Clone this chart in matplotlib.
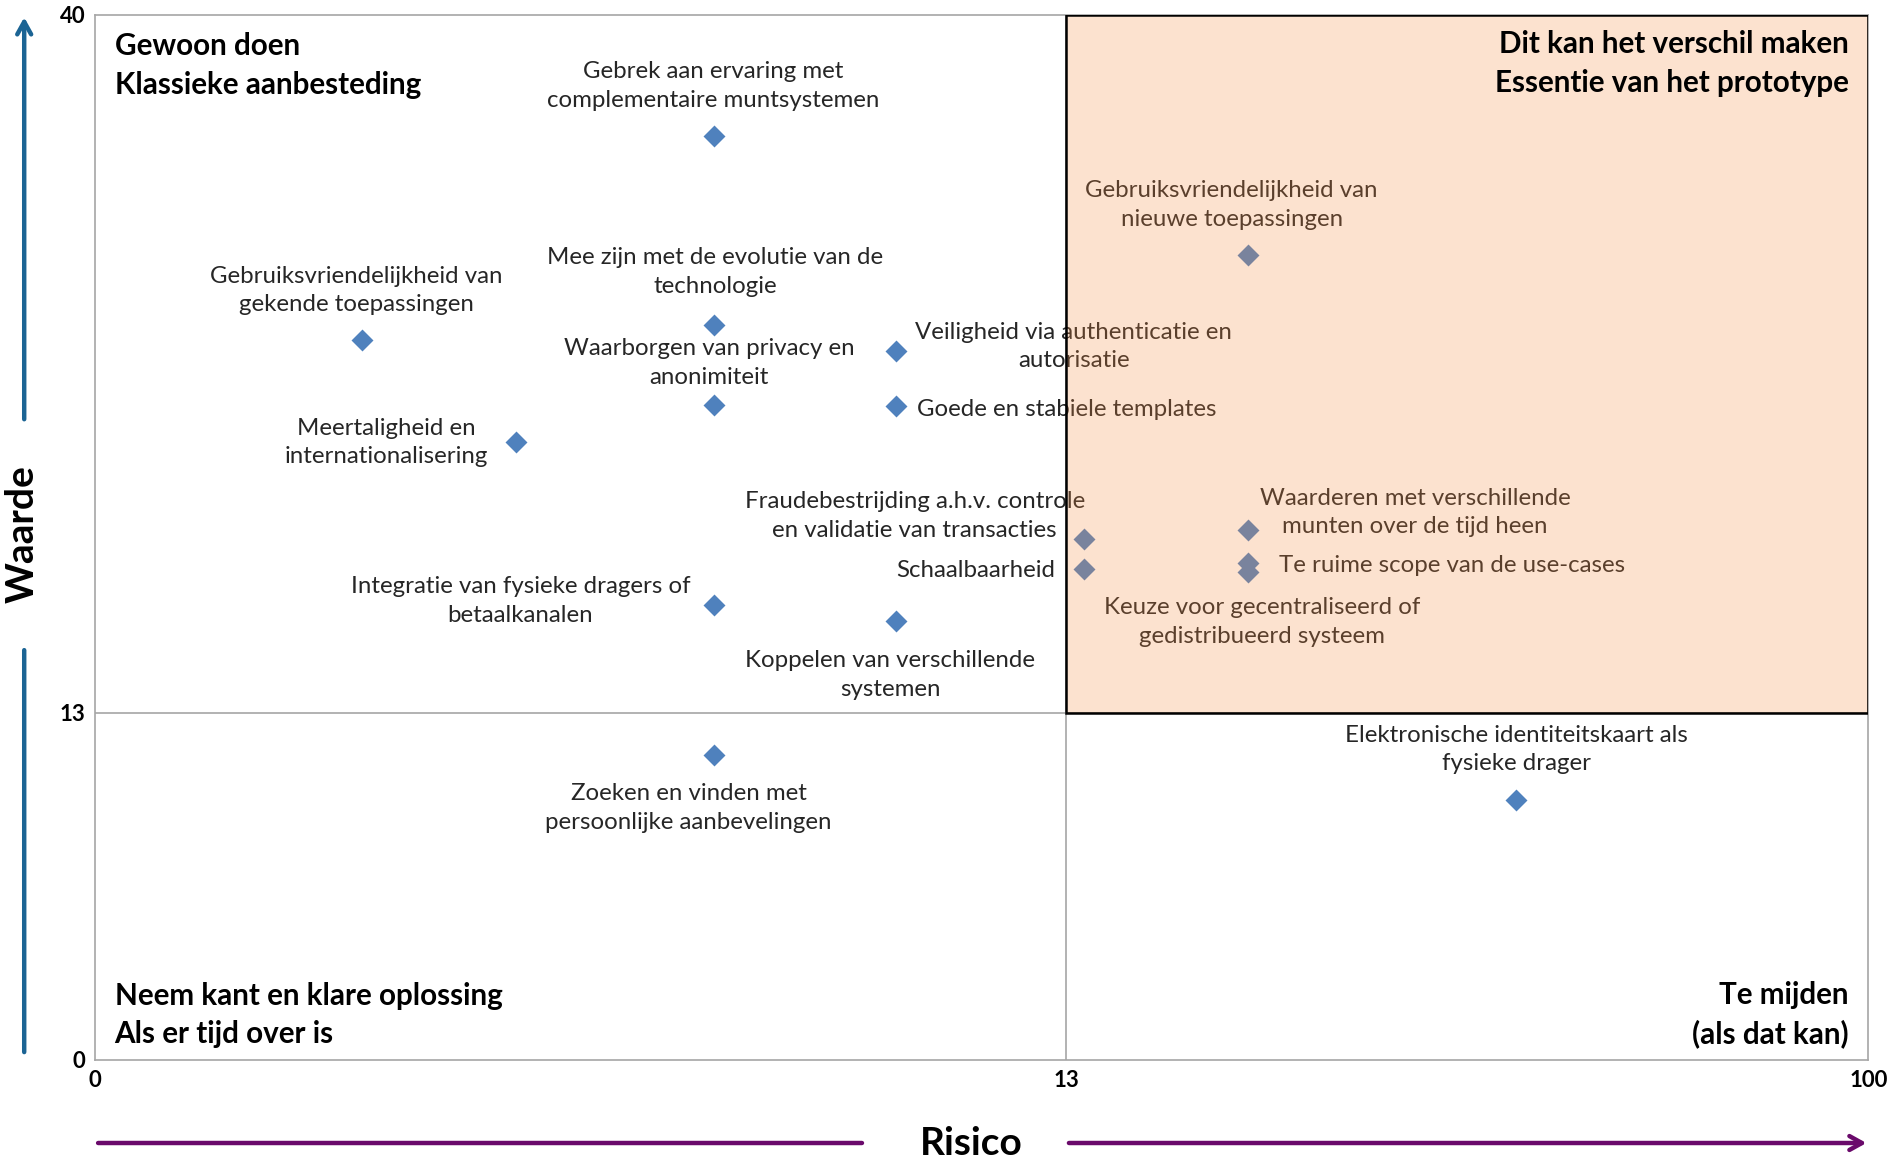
import numpy as np
import matplotlib.pyplot as plt
from matplotlib.patches import Rectangle

plt.rcParams['font.family'] = ['Lato', 'DejaVu Sans']

labels = [
    'Gebrek aan ervaring met\ncomplementaire muntsystemen',
    'Gebruiksvriendelijkheid van\nnieuwe toepassingen',
    'Mee zijn met de evolutie van de\ntechnologie',
    'Gebruiksvriendelijkheid van\ngekende toepassingen',
    'Veiligheid via authenticatie en\nautorisatie',
    'Waarborgen van privacy en\nanonimiteit',
    'Goede en stabiele templates',
    'Meertaligheid en\ninternationalisering',
    'Fraudebestrijding a.h.v. controle\nen validatie van transacties',
    'Waarderen met verschillende\nmunten over de tijd heen',
    'Schaalbaarheid',
    'Te ruime scope van de use-cases',
    'Keuze voor gecentraliseerd of\ngedistribueerd systeem',
    'Integratie van fysieke dragers of\nbetaalkanalen',
    'Koppelen van verschillende\nsystemen',
    'Zoeken en vinden met\npersoonlijke aanbevelingen',
    'Elektronische identiteitskaart als\nfysieke drager',
]
risico = [8.28, 32.75, 8.28, 3.57, 10.72, 8.28, 10.72, 5.64, 14.96, 32.75,
          14.96, 32.75, 32.75, 8.28, 10.72, 8.28, 61.8]
waarde = [35.3, 30.7, 28.0, 27.4, 27.0, 24.9, 24.85, 23.45, 19.7, 20.05,
          18.55, 18.8, 18.45, 17.15, 16.55, 11.4, 9.75]
# label offsets (points) relative to the marker
offsets = [(0, 36), (-12, 36), (1, 38), (-4, 36), (128, 3), (-3, 30), (123, -2),
           (-94, 0), (-122, 17), (120, 13), (-78, -1), (147, -2), (10, -36),
           (-139, 3), (-4, -39), (-18, -38), (0, 36)]

ticks_x = [0, 13, 100]
ticks_y = [0, 13, 40]

# piecewise linear axes (13 is the split point)
fx = 805 / 1470
fy = 288 / 867


def make_fwd(f, top):
    def fwd(v):
        v = np.asarray(v, dtype=float)
        return np.where(v <= 13, v / 13 * f, f + (v - 13) / (top - 13) * (1 - f))
    return fwd


def make_inv(f, top):
    def inv(u):
        u = np.asarray(u, dtype=float)
        return np.where(u <= f, u / f * 13, 13 + (u - f) / (1 - f) * (top - 13))
    return inv


fig = plt.figure(figsize=(18.91, 11.61), dpi=100)
ax = fig.add_axes([0.0503, 0.087, 0.9377, 0.9005])
ax.set_xscale('function', functions=(make_fwd(fx, 100), make_inv(fx, 100)))
ax.set_yscale('function', functions=(make_fwd(fy, 40), make_inv(fy, 40)))
ax.set_xlim(0, 100)
ax.set_ylim(0, 40)

ax.set_xticks(ticks_x)
ax.set_yticks(ticks_y)
ax.set_xticklabels([str(t) for t in ticks_x], fontsize=16, fontweight='bold')
ax.set_yticklabels([str(t) for t in ticks_y], fontsize=16, fontweight='bold')
ax.tick_params(length=0, pad=7)
ax.minorticks_off()
for s in ax.spines.values():
    s.set_color('#A6A6A6')
    s.set_linewidth(1.2)
ax.axvline(13, color='#A6A6A6', lw=1.2, zorder=1)
ax.axhline(13, color='#A6A6A6', lw=1.2, zorder=1)

ax.scatter(risico, waarde, marker='D', s=125, color='#4F81BD', linewidths=0, zorder=3)
for lab, x, y, off in zip(labels, risico, waarde, offsets):
    ax.annotate(lab, (x, y), xytext=off, textcoords='offset points',
                ha='center', va='center', fontsize=17.3, color='#262626',
                linespacing=1.45, zorder=3)

ax.add_patch(Rectangle((13, 13), 87, 27, facecolor='#F78C40', alpha=0.25,
                       edgecolor='none', zorder=5))
ax.add_patch(Rectangle((13, 13), 87, 27, facecolor='none', edgecolor='black',
                       lw=1.8, zorder=6))

qkw = dict(transform=ax.transAxes, fontsize=21.3, fontweight='bold', color='black',
           linespacing=1.45, zorder=7)
ax.text(0.011, 0.983, 'Gewoon doen\nKlassieke aanbesteding', ha='left', va='top', **qkw)
ax.text(0.989, 0.985, 'Dit kan het verschil maken\nEssentie van het prototype', ha='right', va='top', **qkw)
ax.text(0.011, 0.011, 'Neem kant en klare oplossing\nAls er tijd over is', ha='left', va='bottom', **qkw)
ax.text(0.989, 0.011, 'Te mijden\n(als dat kan)', ha='right', va='bottom', **qkw)

# axis titles with arrows
fig.text(0.5135, 0.0155, 'Risico', ha='center', va='center', fontsize=28, fontweight='bold')
fig.text(0.0115, 0.540, 'Waarde', ha='center', va='center', rotation=90, fontsize=28, fontweight='bold')

purple = '#6A0A6B'
blue = '#1B6494'
ax.annotate('', xy=(0.4573, 0.0155), xytext=(0.0504, 0.0155), xycoords='figure fraction',
            arrowprops=dict(arrowstyle='-', lw=3.2, color=purple), annotation_clip=False)
ax.annotate('', xy=(0.9885, 0.0155), xytext=(0.5638, 0.0155), xycoords='figure fraction',
            arrowprops=dict(arrowstyle='->,head_length=0.9,head_width=0.5', lw=3.2, color=purple),
            annotation_clip=False)
ax.annotate('', xy=(0.0128, 0.0914), xytext=(0.0128, 0.4424), xycoords='figure fraction',
            arrowprops=dict(arrowstyle='-', lw=3.2, color=blue), annotation_clip=False)
ax.annotate('', xy=(0.0128, 0.9875), xytext=(0.0128, 0.6365), xycoords='figure fraction',
            arrowprops=dict(arrowstyle='->,head_length=0.9,head_width=0.5', lw=3.2, color=blue),
            annotation_clip=False)

fig.savefig('out.png', dpi=100)
